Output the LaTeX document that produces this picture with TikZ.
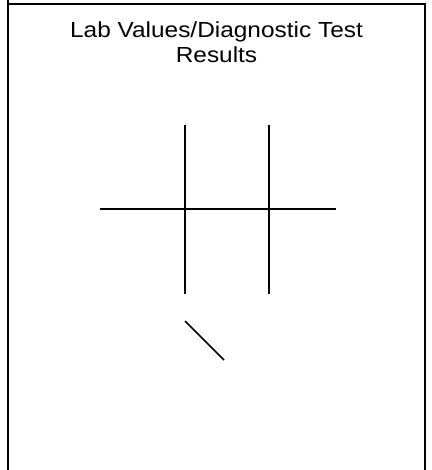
\documentclass[tikz,border=0pt]{standalone}
\usepackage{fontspec}
\setmainfont{Liberation Sans}
\begin{document}
\begin{tikzpicture}[x=1pt,y=1pt,
  frame/.style={line width=2pt, line join=miter},
  bone/.style={line width=1.6pt}]
  \useasboundingbox (0,0) rectangle (431,470);
  % Card outline (open at the bottom)
  \draw[frame] (8,470) -- (8,466) -- (425,466) -- (425,0) (8,466) -- (8,0);

  % Title
  \node[anchor=north, inner sep=0pt, align=center, transform shape, xscale=1.12,
        font=\fontsize{21.8}{24.6}\selectfont] (title) at (216.5,448)
        {Lab Values/Diagnostic Test\\Results};

  % Lab grid
  \coordinate (vtop1) at (185,345);
  \coordinate (vbot1) at (185,176);
  \coordinate (vtop2) at (269,345);
  \coordinate (vbot2) at (269,176);
  \coordinate (hleft) at (100,261);
  \coordinate (hright) at (336,261);
  \draw[bone] (vtop1) -- (vbot1);
  \draw[bone] (vtop2) -- (vbot2);
  \draw[bone] (hleft) -- (hright);

  % Diagonal stroke
  \coordinate (dstart) at (185,149);
  \coordinate (dend) at (224,110);
  \draw[bone] (dstart) -- (dend);
\end{tikzpicture}
\end{document}
